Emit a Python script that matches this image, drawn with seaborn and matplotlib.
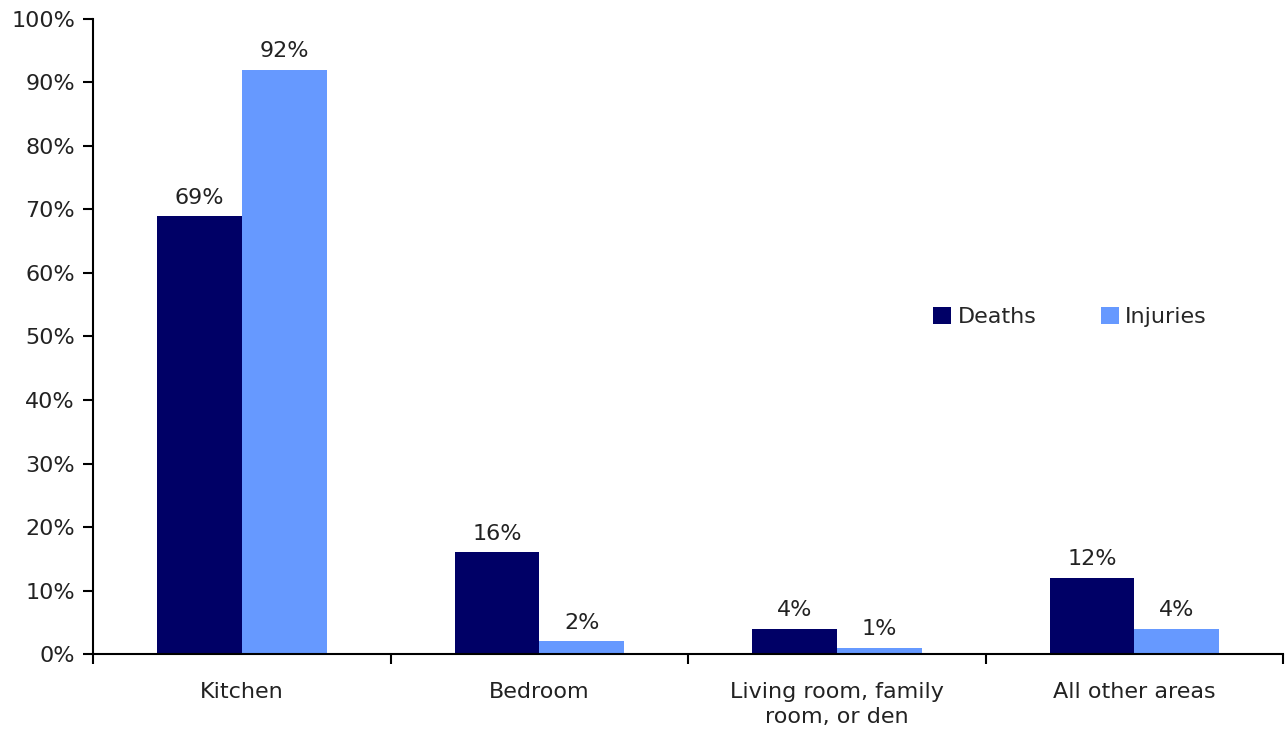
import matplotlib
matplotlib.use("Agg")
from matplotlib import pyplot as plt
from matplotlib.ticker import FixedLocator
import seaborn as sns
import pandas as pd

areas = ["Kitchen", "Bedroom", "Living room, family\nroom, or den", "All other areas"]
deaths = [69, 16, 4, 12]
injuries = [92, 2, 1, 4]
series = ["Deaths", "Injuries"]
colors = ["#000066", "#6699FF"]
y_ticks = [0, 10, 20, 30, 40, 50, 60, 70, 80, 90, 100]

df = pd.DataFrame(
    {
        "area": areas * 2,
        "pct": deaths + injuries,
        "type": [series[0]] * len(areas) + [series[1]] * len(areas),
    }
)

sns.set_style("white")
plt.rcParams["font.family"] = ["DejaVu Sans"]

fig = plt.figure(figsize=(12.87, 7.36), dpi=100)
ax = fig.add_axes([0.0723, 0.1114, 0.9247, 0.8628])

sns.barplot(
    data=df,
    x="area",
    y="pct",
    hue="type",
    palette=colors,
    width=0.57,
    saturation=1,
    linewidth=0,
    ax=ax,
)

for container in ax.containers:
    ax.bar_label(container, fmt="%d%%", padding=6, fontsize=16, color="#222222")

ax.set_xlim(-0.5, len(areas) - 0.5)
ax.set_ylim(0, 100)
ax.set_yticks(y_ticks)
ax.set_yticklabels([f"{t}%" for t in y_ticks])
ax.xaxis.set_minor_locator(FixedLocator([i - 0.5 for i in range(len(areas) + 1)]))
ax.tick_params(axis="x", which="major", bottom=True, length=0, pad=20, labelsize=16, labelcolor="#222222")
ax.tick_params(axis="x", which="minor", bottom=True, length=7, width=1.5, color="black", direction="out")
ax.tick_params(axis="y", left=True, length=7, width=1.5, color="black", direction="out", pad=6, labelsize=16, labelcolor="#222222")
for lbl in ax.get_xticklabels():
    lbl.set_linespacing(1.35)
ax.set_xlabel("")
ax.set_ylabel("")

for side in ["top", "right"]:
    ax.spines[side].set_visible(False)
for side in ["left", "bottom"]:
    ax.spines[side].set_color("black")
    ax.spines[side].set_linewidth(1.5)

ax.legend(
    loc="center",
    bbox_to_anchor=(0.821, 0.531),
    ncol=2,
    frameon=False,
    fontsize=16,
    handlelength=0.8,
    handleheight=0.8,
    handletextpad=0.3,
    columnspacing=2.9,
)

fig.savefig("out.png", dpi=100)
